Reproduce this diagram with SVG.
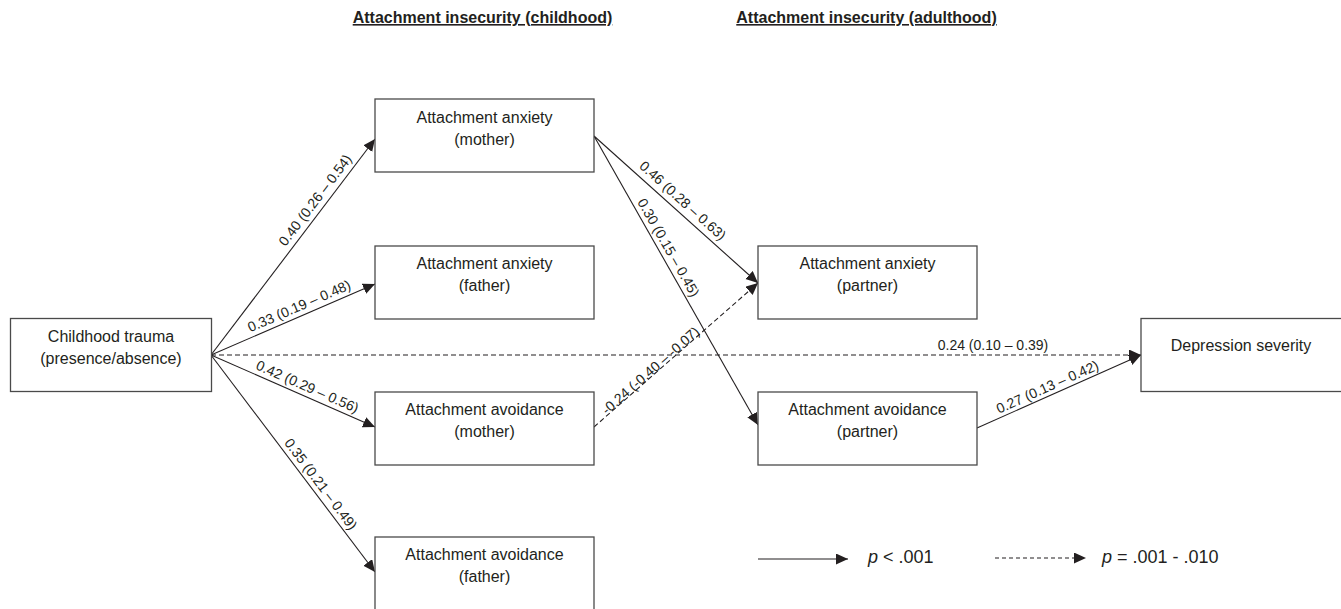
<svg xmlns="http://www.w3.org/2000/svg" width="1341" height="609" viewBox="0 0 1341 609">
<style>
  .box { fill: #ffffff; stroke: #4a4a4a; stroke-width: 1.3; }
  .nt { font-family: "Liberation Sans", Arial, sans-serif; font-size: 16px; fill: #231f20; text-anchor: middle; }
  .hd { font-family: "Liberation Sans", Arial, sans-serif; font-size: 16px; font-weight: bold; fill: #231f20; text-anchor: middle; text-decoration: underline; }
  .el { font-family: "Liberation Sans", Arial, sans-serif; font-size: 14px; fill: #231f20; text-anchor: middle; }
  .lg { font-family: "Liberation Sans", Arial, sans-serif; font-size: 18px; fill: #231f20; }
  .ln { fill: none; stroke: #231f20; stroke-width: 1.1; marker-end: url(#ah); }
  .dash { stroke-dasharray: 5 3; }
  .ldash { stroke-dasharray: 4 3; }
</style>
<defs>
  <marker id="ah" markerUnits="userSpaceOnUse" markerWidth="13" markerHeight="12" refX="12" refY="5.5" orient="auto">
    <path d="M0,0 L12,5.5 L0,11 z" fill="#231f20"/>
  </marker>
</defs>
<rect x="0" y="0" width="1341" height="609" fill="#ffffff"/>

<g id="headers">
  <text class="hd" x="482.5" y="23">Attachment insecurity (childhood)</text>
  <text class="hd" x="866.5" y="23">Attachment insecurity (adulthood)</text>
</g>

<g id="connectors">
  <line class="ln" x1="211" y1="355" x2="375" y2="139"/>
  <line class="ln" x1="211" y1="355" x2="375" y2="284"/>
  <line class="ln" x1="211" y1="355" x2="375" y2="427"/>
  <line class="ln" x1="211" y1="355" x2="375" y2="572"/>
  <line class="ln dash" x1="211" y1="355" x2="1141" y2="355"/>
  <line class="ln" x1="594" y1="136" x2="758" y2="283"/>
  <line class="ln" x1="594" y1="136" x2="758" y2="425"/>
  <line class="ln dash" x1="594" y1="427" x2="758" y2="283"/>
  <line class="ln" x1="977" y1="428" x2="1141" y2="355"/>

  <text class="el" transform="translate(323,206) rotate(-52.8)" y="-5">0.40 (0.26 – 0.54)</text>
  <text class="el" transform="translate(303,315) rotate(-23.4)" y="-5">0.33 (0.19 – 0.48)</text>
  <text class="el" transform="translate(303.5,395.6) rotate(23.7)" y="-5">0.42 (0.29 – 0.56)</text>
  <text class="el" transform="translate(313,490) rotate(52.9)" y="-5">0.35 (0.21 – 0.49)</text>
  <text class="el" x="993" y="350">0.24 (0.10 – 0.39)</text>
  <text class="el" transform="translate(675.6,208.6) rotate(41.9)" y="-6">0.46 (0.28 – 0.63)</text>
  <text class="el" transform="translate(660,252.5) rotate(60.4)" y="-5">0.30 (0.15 – 0.45)</text>
  <text class="el" transform="translate(653.7,374.2) rotate(-41.3)" y="0">-0.24 (-0.40 – -0.07)</text>
  <text class="el" transform="translate(1051,395) rotate(-24)" y="-4">0.27 (0.13 – 0.42)</text>
</g>

<g id="trauma">
  <rect class="box" x="10.5" y="318.5" width="201" height="73"/>
  <text class="nt" x="111" y="342">Childhood trauma</text>
  <text class="nt" x="111" y="364">(presence/absence)</text>
</g>
<g id="anx-mother">
  <rect class="box" x="375" y="99" width="219" height="73"/>
  <text class="nt" x="484.5" y="123">Attachment anxiety</text>
  <text class="nt" x="484.5" y="145">(mother)</text>
</g>
<g id="anx-father">
  <rect class="box" x="375" y="246" width="219" height="73"/>
  <text class="nt" x="484.5" y="269">Attachment anxiety</text>
  <text class="nt" x="484.5" y="291">(father)</text>
</g>
<g id="avo-mother">
  <rect class="box" x="375" y="392" width="219" height="73"/>
  <text class="nt" x="484.5" y="415">Attachment avoidance</text>
  <text class="nt" x="484.5" y="437">(mother)</text>
</g>
<g id="avo-father">
  <rect class="box" x="375" y="537" width="219" height="74"/>
  <text class="nt" x="484.5" y="560">Attachment avoidance</text>
  <text class="nt" x="484.5" y="582">(father)</text>
</g>
<g id="anx-partner">
  <rect class="box" x="758" y="246" width="219" height="73"/>
  <text class="nt" x="867.5" y="269">Attachment anxiety</text>
  <text class="nt" x="867.5" y="291">(partner)</text>
</g>
<g id="avo-partner">
  <rect class="box" x="758" y="392" width="219" height="73"/>
  <text class="nt" x="867.5" y="415">Attachment avoidance</text>
  <text class="nt" x="867.5" y="437">(partner)</text>
</g>
<g id="depression">
  <rect class="box" x="1141" y="318.5" width="201" height="73"/>
  <text class="nt" x="1241" y="351">Depression severity</text>
</g>

<g id="legend">
  <line class="ln" x1="758" y1="559" x2="848" y2="559"/>
  <text class="lg" x="868" y="563"><tspan font-style="italic">p</tspan> &lt; .001</text>
  <line class="ln ldash" x1="995" y1="558" x2="1086" y2="558"/>
  <text class="lg" x="1102" y="563"><tspan font-style="italic">p</tspan> = .001 - .010</text>
</g>
</svg>
